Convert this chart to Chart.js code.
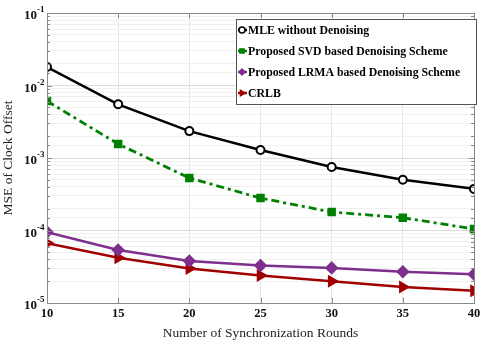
<!DOCTYPE html>
<html>
<head>
<meta charset="utf-8">
<script src="https://cdn.jsdelivr.net/npm/chart.js@4"></script>
<style>
  html, body { margin: 0; padding: 0; background: #fff; }
  #wrap { width: 485px; height: 346px; }
</style>
</head>
<body>
<div id="wrap"><canvas id="mseChart"></canvas></div>
<script>
const rounds = [10, 15, 20, 25, 30, 35, 40];
const mleNoDenoise = [1.8e-2, 5.5e-3, 2.35e-3, 1.29e-3, 7.5e-4, 5.0e-4, 3.75e-4];
const svdDenoise   = [6.1e-3, 1.56e-3, 5.3e-4, 2.8e-4, 1.8e-4, 1.5e-4, 1.05e-4];
const lrmaDenoise  = [9.5e-5, 5.4e-5, 3.8e-5, 3.3e-5, 3.05e-5, 2.7e-5, 2.5e-5];
const crlb         = [6.7e-5, 4.2e-5, 3.0e-5, 2.4e-5, 2.0e-5, 1.66e-5, 1.47e-5];
const seriesNames = [
    'MLE without Denoising',
    'Proposed SVD based Denoising Scheme',
    'Proposed LRMA based Denoising Scheme',
    'CRLB'
];
const xTicks = [10, 15, 20, 25, 30, 35, 40];

function decadeExp(v) {
    const e = Math.round(Math.log10(v));
    return Math.abs(Math.log10(v) - e) < 1e-6 ? e : null;
}

const serif = "'Liberation Serif', 'Times New Roman', serif";

// MATLAB style box, 10^n labels, inner tick marks and the legend box
const boxPlugin = {
    id: 'boxPlugin',
    afterDraw(chart) {
        const { ctx, chartArea: a, scales } = chart;
        ctx.save();
        ctx.strokeStyle = '#8a8a8a';
        ctx.lineWidth = 1;
        ctx.strokeRect(a.left + 0.5, a.top + 0.5, a.right - a.left, a.bottom - a.top);

        ctx.beginPath();
        scales.y.ticks.forEach(t => {
            const y = Math.round(scales.y.getPixelForValue(t.value)) + 0.5;
            const len = decadeExp(t.value) !== null ? 5 : 3;
            ctx.moveTo(a.left, y); ctx.lineTo(a.left + len, y);
            ctx.moveTo(a.right, y); ctx.lineTo(a.right - len, y);
        });
        xTicks.forEach(v => {
            const x = Math.round(scales.x.getPixelForValue(v)) + 0.5;
            ctx.moveTo(x, a.top); ctx.lineTo(x, a.top + 5);
            ctx.moveTo(x, a.bottom); ctx.lineTo(x, a.bottom - 5);
        });
        ctx.stroke();

        // y tick labels as 10 with a raised exponent
        ctx.fillStyle = '#111';
        scales.y.ticks.forEach(t => {
            const e = decadeExp(t.value);
            if (e === null) return;
            const y = scales.y.getPixelForValue(t.value);
            ctx.textBaseline = 'middle';
            ctx.font = 'bold 13px ' + serif;
            ctx.textAlign = 'right';
            ctx.fillText('10', 37, y + 3);
            ctx.font = 'bold 9px ' + serif;
            ctx.textAlign = 'left';
            ctx.fillText(String(e), 37, y - 3);
        });

        // legend
        const bx = 236, by = 19, bw = 240, bh = 85, rowH = 21;
        ctx.fillStyle = '#fff';
        ctx.fillRect(bx, by, bw, bh);
        ctx.strokeStyle = '#555';
        ctx.lineWidth = 1;
        ctx.strokeRect(bx + 0.5, by + 0.5, bw, bh);
        ctx.font = 'bold 11.8px ' + serif;
        ctx.textBaseline = 'middle';
        chart.data.datasets.forEach((ds, i) => {
            const y = by + 11 + i * rowH;
            ctx.strokeStyle = ds.borderColor;
            ctx.lineWidth = 2.5;
            ctx.setLineDash([]);
            ctx.beginPath();
            ctx.moveTo(bx + 2, y); ctx.lineTo(bx + 11, y);
            ctx.stroke();
            ctx.fillStyle = ds.pointBackgroundColor;
            ctx.lineWidth = 1.5;
            Chart.helpers.drawPoint(ctx, {
                pointStyle: ds.pointStyle, rotation: ds.pointRotation || 0,
                radius: 3, borderWidth: 1.5
            }, bx + 6, y);
            ctx.fillStyle = '#000';
            ctx.textAlign = 'left';
            ctx.fillText(ds.label, bx + 12, y + 1);
        });
        ctx.restore();
    }
};

const ctx = document.getElementById('mseChart').getContext('2d');
new Chart(ctx, {
    type: 'line',
    data: {
        datasets: [
            {
                label: seriesNames[0],
                data: rounds.map((r, i) => ({ x: r, y: mleNoDenoise[i] })),
                borderColor: '#000000',
                pointBackgroundColor: '#ffffff',
                pointBorderColor: '#000000',
                pointStyle: 'circle',
                pointRadius: 4,
                pointBorderWidth: 2,
                borderWidth: 2.5
            },
            {
                label: seriesNames[1],
                data: rounds.map((r, i) => ({ x: r, y: svdDenoise[i] })),
                borderColor: '#008000',
                pointBackgroundColor: '#008000',
                pointBorderColor: '#008000',
                pointStyle: 'rect',
                pointRadius: 4,
                borderWidth: 2.8,
                borderDash: [8, 4, 3, 4]
            },
            {
                label: seriesNames[2],
                data: rounds.map((r, i) => ({ x: r, y: lrmaDenoise[i] })),
                borderColor: '#7E2F8E',
                pointBackgroundColor: '#7E2F8E',
                pointBorderColor: '#7E2F8E',
                pointStyle: 'rectRot',
                pointRadius: 5,
                borderWidth: 2.5
            },
            {
                label: seriesNames[3],
                data: rounds.map((r, i) => ({ x: r, y: crlb[i] })),
                borderColor: '#A00000',
                pointBackgroundColor: '#A00000',
                pointBorderColor: '#A00000',
                pointStyle: 'triangle',
                pointRotation: 90,
                pointRadius: 5,
                borderWidth: 2.5
            }
        ]
    },
    options: {
        responsive: true,
        maintainAspectRatio: false,
        animation: false,
        layout: { padding: { top: 13, right: 11, left: 0, bottom: 0 } },
        plugins: {
            legend: { display: false },
            tooltip: { enabled: false }
        },
        scales: {
            x: {
                type: 'linear',
                min: 10,
                max: 40,
                afterBuildTicks: s => { s.ticks = xTicks.map(v => ({ value: v })); },
                afterFit: s => { s.height = 43; },
                ticks: {
                    color: '#111',
                    font: { family: serif, size: 12.5, weight: 'bold' },
                    padding: 3,
                    maxRotation: 0
                },
                grid: { color: '#e6e6e6', drawTicks: false },
                border: { display: false },
                title: {
                    display: true,
                    text: 'Number of Synchronization Rounds',
                    color: '#222',
                    font: { family: serif, size: 13.5 },
                    padding: { top: 0, bottom: 4 }
                }
            },
            y: {
                type: 'logarithmic',
                min: 1e-5,
                max: 1e-1,
                afterFit: s => { s.width = 47; },
                ticks: {
                    autoSkip: false,
                    color: '#111',
                    font: { family: serif, size: 12.5, weight: 'bold' },
                    padding: 4,
                    callback: () => ''
                },
                grid: {
                    drawTicks: false,
                    color: c => (c.tick && decadeExp(c.tick.value) !== null) ? '#dddddd' : '#f0f0f0'
                },
                border: { display: false },
                title: {
                    display: true,
                    text: 'MSE of Clock Offset',
                    color: '#222',
                    font: { family: serif, size: 13.5 },
                    padding: { top: 0, bottom: 2 }
                }
            }
        }
    },
    plugins: [boxPlugin]
});
</script>
</body>
</html>
